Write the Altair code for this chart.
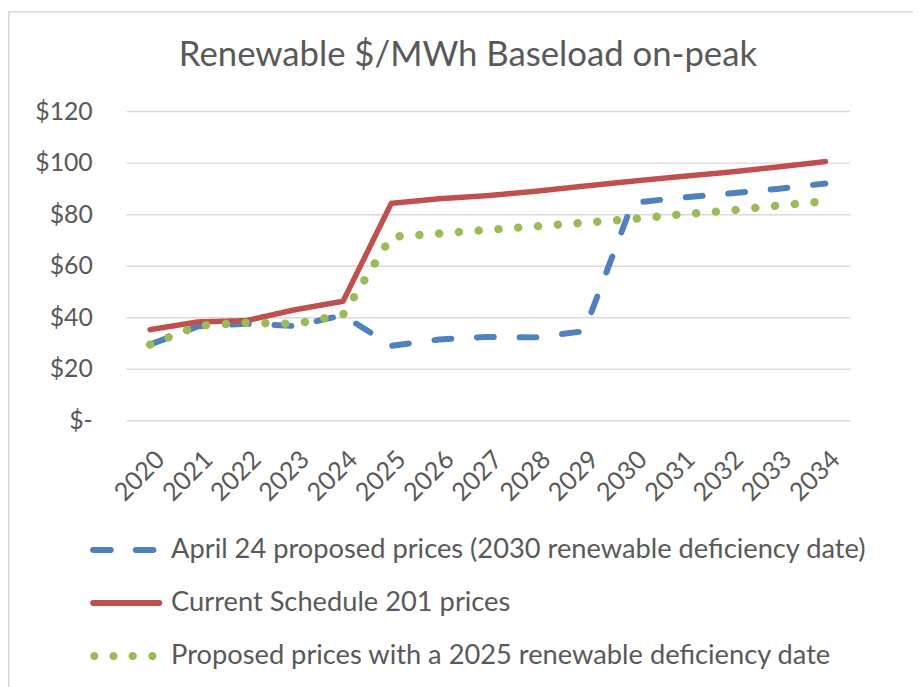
import altair as alt
import pandas as pd

# ---------------- data ----------------
years = [str(y) for y in range(2020, 2035)]
april24 = [29.4, 36.5, 37.5, 36.6, 40.8, 28.9, 31.4, 32.4, 32.2, 34.6, 84.4, 86.4, 88.0, 89.8, 91.9]
current201 = [35.2, 38.2, 38.7, 42.9, 46.2, 84.2, 86.0, 87.2, 88.9, 90.9, 92.8, 94.6, 96.3, 98.3, 100.4]
proposed2025 = [29.4, 36.7, 37.9, 37.4, 41.0, 71.2, 72.5, 73.9, 75.3, 76.7, 78.1, 79.9, 81.4, 83.3, 85.0]

series_names = [
    "April 24 proposed prices (2030 renewable deficiency date)",
    "Current Schedule 201 prices",
    "Proposed prices with a 2025 renewable deficiency date",
]
series_values = [april24, current201, proposed2025]
colors = ["#4F81BD", "#C0504D", "#9BBB59"]

rows = []
for name, vals in zip(series_names, series_values):
    for yr, v in zip(years, vals):
        rows.append({"year": yr, "price": v, "series": name})
df = pd.DataFrame(rows)

# ---------------- styles ----------------
TEXT = "#595959"
GRID = "#d9d9d9"
FONT = "Lato"

line_dashes = [[17, 26], [1, 0], [0.1, 19.9]]
line_widths = [6, 5.5, 8.5]


def stadium(x1, x2, h):
    a, b = x1 + h, x2 - h
    return (f"M{a},{-h}L{b},{-h}A{h},{h} 0 0 1 {b},{h}L{a},{h}"
            f"A{h},{h} 0 0 1 {a},{-h}Z")


def dot(cx, r):
    return (f"M{cx - r},0A{r},{r} 0 1 0 {cx + r},0A{r},{r} 0 1 0 {cx - r},0Z")


legend_shapes = [
    stadium(-5.27, -3.09, 0.27) + stadium(-1.36, 0.82, 0.27),
    stadium(-5.27, 1.36, 0.27),
    "".join(dot(c, 0.38) for c in [-4.88, -3.12, -1.36, 0.45]),
]

x_enc = alt.X(
    "year:O",
    sort=years,
    scale=alt.Scale(type="point", padding=0.5),
    axis=alt.Axis(
        title=None, labelAngle=-45, labelAlign="right", labelBaseline="middle",
        labelFontSize=25.5, labelColor=TEXT, labelFont=FONT, labelPadding=35,
        labelOffset=10, ticks=False, domain=False, grid=False,
    ),
)
y_enc = alt.Y(
    "price:Q",
    scale=alt.Scale(domain=[0, 120], nice=False, zero=True),
    axis=alt.Axis(
        title=None, values=[0, 20, 40, 60, 80, 100, 120],
        labelExpr="datum.value == 0 ? '$-\u00a0\u00a0\u00a0' : '$' + datum.value",
        labelFontSize=25, labelColor=TEXT, labelFont=FONT, labelPadding=34,
        ticks=False, domain=False, grid=True, gridColor=GRID, gridWidth=1.5,
    ),
)
color_scale = alt.Scale(domain=series_names, range=colors)

line_layers = []
for name, col, dash, width in zip(series_names, colors, line_dashes, line_widths):
    line_layers.append(
        alt.Chart(df)
        .transform_filter(alt.datum.series == name)
        .mark_line(color=col, strokeDash=dash, strokeWidth=width,
                   strokeCap="round", strokeJoin="round")
        .encode(x=x_enc, y=y_enc)
    )

legend_layer = alt.Chart(df).transform_filter("false").mark_point(
    filled=True, opacity=1, size=484
).encode(
    x=x_enc,
    y=y_enc,
    color=alt.Color(
        "series:N", scale=color_scale,
        legend=alt.Legend(
            title=None, orient="none", legendX=8, legendY=429, direction="vertical",
            labelFontSize=27.5, labelColor=TEXT, labelFont=FONT, labelLimit=900,
            labelOffset=10, rowPadding=24.5, symbolSize=484, symbolStrokeWidth=0,
            padding=0,
        ),
    ),
    shape=alt.Shape("series:N", scale=alt.Scale(domain=series_names, range=legend_shapes)),
)

frame = alt.Chart(pd.DataFrame({"frame": [0]})).mark_rect(
    filled=False, stroke=GRID, strokeWidth=1.5
).encode(
    x=alt.value(-118.2), x2=alt.value(900), y=alt.value(-100.2), y2=alt.value(700)
)

chart = alt.layer(frame, *line_layers, legend_layer).properties(
    width=730,
    height=312,
    autosize=alt.AutoSizeParams(type="none"),
    padding={"left": 119, "top": 101, "right": 64, "bottom": 266},
    title=alt.Title(
        "Renewable $/MWh Baseload on-peak", fontSize=35, font=FONT, color=TEXT,
        fontWeight="normal", offset=-62, dx=-20, anchor="middle",
    ),
).configure(background="white", view=alt.ViewConfig(stroke="transparent"))

chart.save("out.html", embed_options={"renderer": "svg", "actions": False})
